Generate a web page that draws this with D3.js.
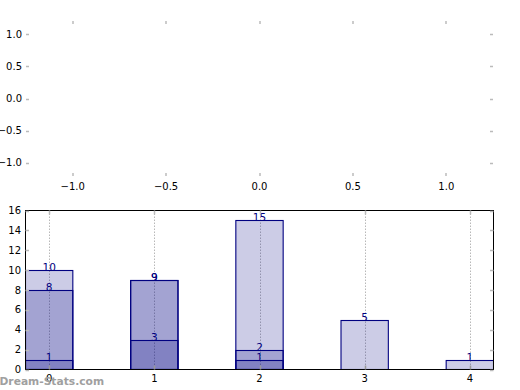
<!DOCTYPE html>
<html><head><meta charset="utf-8">
<script src="https://cdn.jsdelivr.net/npm/d3@7"></script>
<style>body{margin:0;background:#fff}svg{display:block}text{font-family:"DejaVu Sans",sans-serif}</style>
</head><body>
<script>
const categories = [0, 1, 2, 3, 4];
const seriesLight = [10, 9, 15, 5, 1];
const seriesMid = [8, 9, 2, null, null];
const seriesDark = [1, 3, 1, null, null];
const topXTicks = [-1.0, -0.5, 0.0, 0.5, 1.0];
const topYTicks = [1.0, 0.5, 0.0, -0.5, -1.0];
const bottomYTicks = [0, 2, 4, 6, 8, 10, 12, 14, 16];

const W = 520, H = 390;
const svg = d3.select("body").append("svg").attr("width", W).attr("height", H);
const tickCol = "#bbb", navy = "#000080";
const fmt1 = d => d3.format(".1f")(d).replace("-", "\u2212");

// ---------- Top (empty) axes ----------
const tx = d3.scaleLinear().domain([-1.25, 1.25]).range([26, 493]);
const ty = d3.scaleLinear().domain([-1.21, 1.21]).range([176, 21]);
const topG = svg.append("g");
topXTicks.forEach(v => {
  const xx = Math.round(tx(v));
  topG.append("line").attr("x1", xx).attr("x2", xx).attr("y1", 21).attr("y2", 24)
    .attr("stroke", tickCol).attr("stroke-width", 1.5);
  topG.append("line").attr("x1", xx).attr("x2", xx).attr("y1", 173).attr("y2", 176)
    .attr("stroke", tickCol).attr("stroke-width", 1.5);
  topG.append("text").attr("x", tx(v)).attr("y", 190).attr("text-anchor", "middle")
    .attr("font-size", 10).attr("fill", "#000").text(fmt1(v));
});
topYTicks.forEach(v => {
  const yy = Math.round(ty(v)) + 0.5;
  topG.append("line").attr("x1", 26).attr("x2", 29).attr("y1", yy).attr("y2", yy)
    .attr("stroke", tickCol).attr("stroke-width", 1.5);
  topG.append("line").attr("x1", 490).attr("x2", 493).attr("y1", yy).attr("y2", yy)
    .attr("stroke", tickCol).attr("stroke-width", 1.5);
  topG.append("text").attr("x", 22).attr("y", ty(v)).attr("dy", "0.35em").attr("text-anchor", "end")
    .attr("font-size", 10).attr("fill", "#000").text(fmt1(v));
});

// ---------- Bottom bar chart ----------
const L = 25.5, R = 493.5, T = 210.5, B = 369.5;
const x = d3.scaleLinear().domain([-0.225, 4.225]).range([L, R]);
const y = d3.scaleLinear().domain([0, 16]).range([B, T]);
const bw = x(0.45) - x(0);
const g = svg.append("g");
svg.append("clipPath").attr("id", "c").append("rect")
  .attr("x", L).attr("y", T).attr("width", R - L).attr("height", B - T);

// grid
categories.forEach(c => {
  const gx = Math.round(x(c)) + 0.5;
  g.append("line").attr("x1", gx).attr("x2", gx).attr("y1", T).attr("y2", B)
    .attr("stroke", "#b8b8b8").attr("stroke-dasharray", "1.5,1.5");
});

const bars = g.append("g").attr("clip-path", "url(#c)");
const labels = g.append("g");
[seriesLight, seriesMid, seriesDark].forEach(series => {
  series.forEach((v, i) => {
    if (v == null) return;
    const cx = x(categories[i]);
    bars.append("rect").attr("x", cx - bw / 2).attr("y", Math.round(y(v)) + 0.5).attr("width", bw)
      .attr("height", y(0) - Math.round(y(v)) - 0.5).attr("fill", navy).attr("fill-opacity", 0.2)
      .attr("stroke", navy).attr("stroke-width", 1.1);
    labels.append("text").attr("x", cx).attr("y", y(v) + 1).attr("text-anchor", "middle")
      .attr("font-size", 10.5).attr("fill", navy).text(v);
  });
});

// frame
g.append("rect").attr("x", L).attr("y", T).attr("width", R - L).attr("height", B - T)
  .attr("fill", "none").attr("stroke", "#000").attr("stroke-width", 1);

// ticks
categories.forEach(c => {
  const gx = Math.round(x(c)) + 0.5;
  g.append("line").attr("x1", gx).attr("x2", gx).attr("y1", B - 4).attr("y2", B)
    .attr("stroke", "#999").attr("stroke-width", 1.5);
  g.append("line").attr("x1", gx).attr("x2", gx).attr("y1", T).attr("y2", T + 4)
    .attr("stroke", tickCol).attr("stroke-width", 1.5);
  g.append("text").attr("x", x(c)).attr("y", 382).attr("text-anchor", "middle")
    .attr("font-size", 10).attr("fill", "#000").text(c);
});
bottomYTicks.forEach(v => {
  const yy = Math.round(y(v)) + 0.5;
  g.append("line").attr("x1", L).attr("x2", L + 3.5).attr("y1", yy).attr("y2", yy)
    .attr("stroke", tickCol).attr("stroke-width", 1.5);
  g.append("line").attr("x1", R - 3.5).attr("x2", R).attr("y1", yy).attr("y2", yy)
    .attr("stroke", tickCol).attr("stroke-width", 1.5);
  g.append("text").attr("x", 21).attr("y", y(v)).attr("dy", "0.35em").attr("text-anchor", "end")
    .attr("font-size", 10).attr("fill", "#000").text(v);
});

// watermark
svg.append("text").attr("x", -0.5).attr("y", 384.5).attr("font-size", 10.7).attr("font-weight", "bold")
  .attr("fill", "#a0a0a0").text("Dream-Stats.com");
</script>
</body></html>
